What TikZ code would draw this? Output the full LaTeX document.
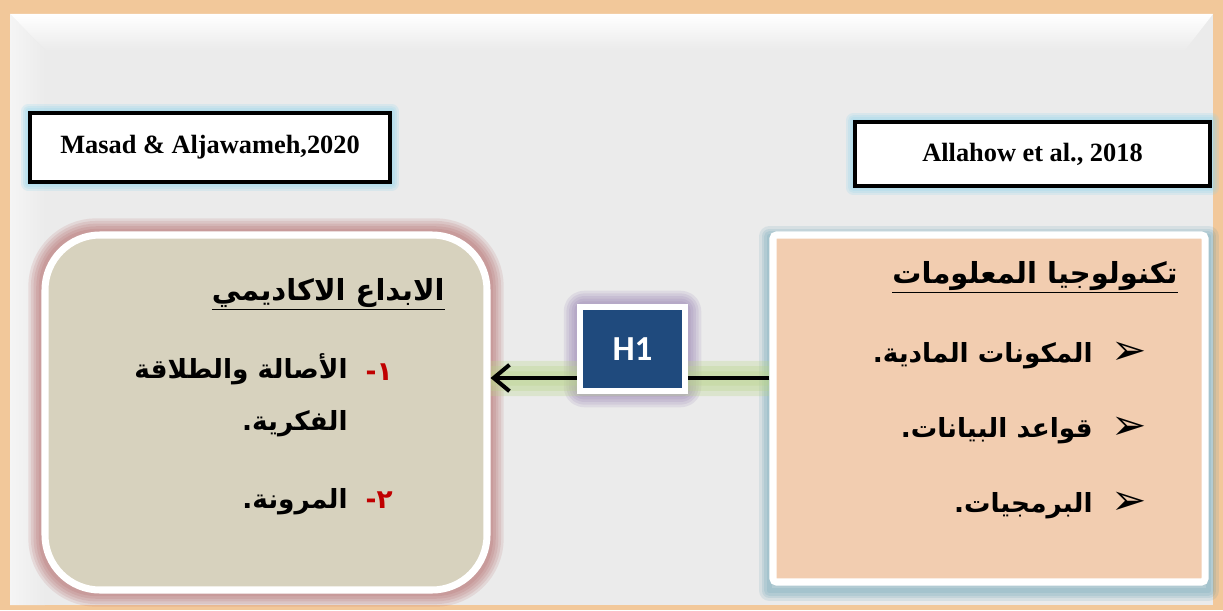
\documentclass[tikz,border=0pt]{standalone}
\usepackage{fontspec}
\setmainfont{Liberation Serif}
\newfontfamily\arabicfont[Script=Arabic]{DejaVu Sans}
\newfontfamily\hfont{Carlito}
\newfontfamily\symfont{DejaVu Sans}
\TeXXeTstate=1
\usetikzlibrary{positioning,arrows.meta}
\definecolor{frameorange}{HTML}{F2C89A}
\definecolor{framegrey}{HTML}{EBEBEB}
\definecolor{leftfill}{HTML}{D7D2BE}
\definecolor{rightfill}{HTML}{F2CDB0}
\definecolor{hblue}{HTML}{1F4A7D}
\definecolor{numred}{HTML}{C00000}
\definecolor{redglow}{HTML}{A84848}
\definecolor{tealglow}{HTML}{3F8AA5}
\definecolor{cyanglow}{HTML}{8FD6EE}
\definecolor{purpleglow}{HTML}{8064A2}
\definecolor{greenglow}{HTML}{B9D48A}
\pgfdeclarelayer{back}
\pgfdeclarelayer{glow}
\pgfsetlayers{back,glow,main}

\begin{document}
\begin{tikzpicture}[
    ref/.style={rectangle, draw=black, line width=1.8pt, fill=white,
                font=\bfseries\fontsize{15}{18}\selectfont},
    var/.style={rectangle, draw=white, line width=4pt},
    ar/.style={anchor=base east, inner sep=0pt,
               font=\arabicfont\bfseries\fontsize{15}{18}\selectfont},
    artitle/.style={ar, font=\arabicfont\bfseries\fontsize{16.5}{20}\selectfont},
    bullet/.style={inner sep=0pt, font=\symfont\bfseries\fontsize{24}{24}\selectfont},
    halo/.style={line join=round, opacity=0.12}]

    \useasboundingbox (0,0) rectangle (24.46,12.2);

    % frame
    \begin{pgfonlayer}{back}
        \fill[frameorange] (0,0) rectangle (24.46,12.2);
        \fill[framegrey] (0.2,0.1) rectangle (24.26,11.92);
        \shade[top color=white, bottom color=framegrey]
            (0.2,11.92) -- (24.26,11.92) -- (23.7,11.2) -- (0.9,11.2) -- cycle;
        \shade[left color=white!50!framegrey, right color=framegrey]
            (0.2,0.1) -- (0.2,11.92) -- (0.9,11.2) -- (0.9,0.1) -- cycle;
    \end{pgfonlayer}

    \node [ref, minimum width=7.2cm, minimum height=1.38cm] (ma) at (4.2,9.25)
        {Masad \& Aljawameh,2020};
    \node [ref, minimum width=7.1cm, minimum height=1.28cm] (al) at (20.65,9.12)
        {Allahow et al., 2018};

    \node [var, fill=leftfill, rounded corners=1.1cm,
        minimum width=8.84cm, minimum height=7.1cm] (ib) at (5.32,3.95) {};
    \node [var, fill=rightfill, rounded corners=2pt,
        minimum width=8.64cm, minimum height=6.94cm] (tk) at (19.78,4.03) {};

    \draw [line width=2.3pt, -{Straight Barb[length=9pt,width=15pt]}]
        ([yshift=0.61cm]tk.west) -- ([yshift=0.69cm]ib.east);

    \node [var, fill=hblue, line width=3.5pt, minimum width=2.1cm, minimum height=1.68cm,
        text=white, font=\hfont\bfseries\fontsize{20}{24}\selectfont] (h1) at (12.65,5.22) {H1};

    % glows
    \begin{pgfonlayer}{glow}
        \foreach \w in {3,6,...,15}
            \draw [halo, redglow, line width=\w pt, rounded corners=1.1cm]
                (ib.north west) rectangle (ib.south east);
        \foreach \w in {3,6,...,12}
            \draw [halo, tealglow, line width=\w pt]
                ([shift={(0,-0.1)}]tk.north west) rectangle ([shift={(0,-0.1)}]tk.south east);
        \foreach \w in {2,4,...,8}
            \draw [halo, cyanglow, line width=\w pt, opacity=0.2]
                (ma.north west) rectangle (ma.south east)
                (al.north west) rectangle (al.south east);
        \foreach \w in {3,6,...,15}
            \draw [halo, purpleglow, line width=\w pt, rounded corners=4pt]
                (h1.north west) rectangle (h1.south east);
        \foreach \w in {8,14,20}
            \draw [greenglow, line width=\w pt, opacity=0.3]
                ([yshift=0.6cm]tk.west) -- ([yshift=0.68cm]ib.east);
    \end{pgfonlayer}

    % left box text
    \node [artitle] (ibt) at (8.9,6.2)
        {\underline{\beginR الابداع الاكاديمي\endR}};
    \node [ar, text=numred] (n1) at (7.86,4.6) {\beginR ١-\endR};
    \node [ar] (t1) at (6.96,4.64) {\beginR الأصالة والطلاقة\endR};
    \node [ar] (t1b) at (6.96,3.6) {\beginR الفكرية.\endR};
    \node [ar, text=numred] (n2) at (7.86,2.04) {\beginR ٢-\endR};
    \node [ar] (t2) at (6.96,2.04) {\beginR المرونة.\endR};

    % right box text
    \node [artitle] (tkt) at (23.56,6.54)
        {\underline{\beginR تكنولوجيا المعلومات\endR}};
    \node [bullet] (b1) at (22.58,5.14) {➢};
    \node [bullet] (b2) at (22.58,3.64) {➢};
    \node [bullet] (b3) at (22.58,2.14) {➢};
    \node [ar] (k1) at (21.86,4.96) {\beginR المكونات المادية.\endR};
    \node [ar] (k2) at (21.86,3.46) {\beginR قواعد البيانات.\endR};
    \node [ar] (k3) at (21.86,1.96) {\beginR البرمجيات.\endR};

\end{tikzpicture}
\end{document}
